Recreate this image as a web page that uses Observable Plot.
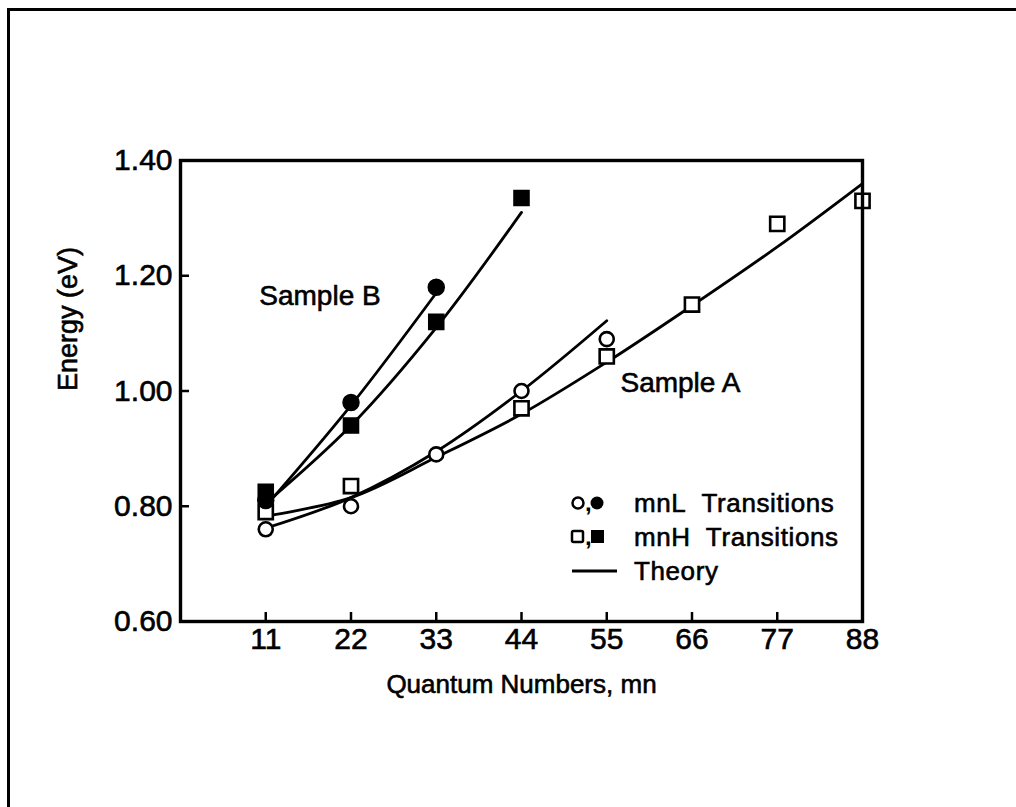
<!DOCTYPE html>
<html>
<head>
<meta charset="utf-8">
<script src="https://cdn.jsdelivr.net/npm/d3@7"></script>
<script src="https://cdn.jsdelivr.net/npm/@observablehq/plot@0.6"></script>
<style>
  html, body { margin: 0; padding: 0; background: #fff; }
  #page { position: relative; width: 1016px; height: 807px; overflow: hidden; font-family: "Liberation Sans", Arial, sans-serif; }
  #sheet { position: absolute; left: 7px; top: 8px; width: 1020px; height: 820px;
           border-top: 3px solid #000; border-left: 3px solid #000; box-sizing: border-box; }
  #chart { position: absolute; left: 0; top: 0; }
  #chart svg text { stroke: #000; stroke-width: 0.6px; }
  #legend { position: absolute; left: 570px; top: 486px; font-size: 26px; color: #000; letter-spacing: 0.6px;
            -webkit-text-stroke: 0.6px #000; }
  #legend .row { display: flex; align-items: center; height: 34px; }
  #legend svg { width: 64px; height: 30px; flex: none; }
</style>
</head>
<body>
<div id="page">
  <div id="sheet"></div>
  <div id="chart"></div>
  <div id="legend">
    <div class="row"><svg viewBox="0 0 64 30"><circle cx="8" cy="15" r="5.5" fill="#fff" stroke="#000" stroke-width="2.5"/><text x="15" y="23" font-size="24" font-weight="bold">,</text><circle cx="27" cy="15" r="6.5" fill="#000"/></svg><span>mnL&nbsp; Transitions</span></div>
    <div class="row"><svg viewBox="0 0 64 30"><rect x="2" y="9" width="11" height="11" rx="1.5" fill="#fff" stroke="#000" stroke-width="2.5"/><text x="15" y="23" font-size="24" font-weight="bold">,</text><rect x="21" y="8" width="13" height="13" fill="#000"/></svg><span>mnH&nbsp; Transitions</span></div>
    <div class="row"><svg viewBox="0 0 64 30"><line x1="2" y1="15" x2="47" y2="15" stroke="#000" stroke-width="2.8"/></svg><span>Theory</span></div>
  </div>
</div>
<script>
// Quantum-number tick positions and energy ticks
const quantumTicks = [11, 22, 33, 44, 55, 66, 77, 88];
const energyTicks = [0.6, 0.8, 1.0, 1.2, 1.4];
const energyTickLabels = ["0.60", "0.80", "1.00", "1.20", "1.40"];

// Sample A measurements (open symbols)
const sampleA_mnL = [[11, 0.76], [22, 0.80], [33, 0.89], [44, 1.00], [55, 1.09]];
const sampleA_mnH = [[11, 0.79], [22, 0.835], [44, 0.97], [55, 1.06], [66, 1.15], [77, 1.29], [88, 1.33]];

// Sample B measurements (filled symbols)
const sampleB_mnL = [[11, 0.81], [22, 0.98], [33, 1.18]];
const sampleB_mnH = [[11, 0.825], [22, 0.94], [33, 1.12], [44, 1.335]];

// Theory curves
const theoryA_mnL = [[11, 0.762], [22, 0.815], [33, 0.895], [44, 1.00], [55, 1.122]];
const theoryA_mnH = [[11, 0.783], [22, 0.815], [33, 0.885], [44, 0.96], [55, 1.05], [66, 1.148], [77, 1.25], [88, 1.36]];
const theoryB_mnL = [[11, 0.80], [22, 0.975], [33, 1.17]];
const theoryB_mnH = [[11, 0.805], [22, 0.94], [33, 1.11], [44, 1.31]];

// Sample name annotations (data coordinates)
const sampleNames = [
  {name: "Sample B", mn: 18, energy: 1.165},
  {name: "Sample A", mn: 64.5, energy: 1.013}
];

const FONT = '"Liberation Sans", Arial, sans-serif';
const W = 1016, H = 807;
const mL = 180, mR = 154, mT = 160, mB = 186;
const frameW = W - mL - mR, frameH = H - mT - mB;

const toRows = (arr) => arr.map(([mn, e]) => ({mn, e}));
const theory = [theoryA_mnL, theoryA_mnH, theoryB_mnL, theoryB_mnH];

const plot = Plot.plot({
  width: W, height: H,
  marginLeft: mL, marginRight: mR, marginTop: mT, marginBottom: mB,
  style: {fontFamily: FONT, background: "transparent", color: "#000"},
  x: {domain: [0, 88]},
  y: {domain: [0.6, 1.4]},
  marks: [
    // inward ticks
    Plot.tickX(quantumTicks, {x: d => d, insetTop: frameH - 9, strokeWidth: 2.5}),
    Plot.tickY(energyTicks, {y: d => d, insetRight: frameW - 9, strokeWidth: 2.5}),
    Plot.axisX(quantumTicks, {tickSize: 0, tickPadding: 6, fontSize: 30, label: null, tickFormat: d => String(d)}),
    Plot.axisY(energyTicks, {tickSize: 0, tickPadding: 8, fontSize: 30, label: null, tickFormat: (d, i) => energyTickLabels[i]}),
    Plot.text(["Energy (eV)"], {frameAnchor: "left", rotate: -90, dx: -112, fontSize: 27, text: d => d}),
    Plot.text(["Quantum Numbers, mn"], {frameAnchor: "bottom", dy: 71, fontSize: 26, text: d => d}),
    // theory lines
    ...theory.map(t => Plot.line(toRows(t), {x: "mn", y: "e", curve: "catmull-rom", stroke: "#000", strokeWidth: 2.8})),
    // measured points
    Plot.dot(toRows(sampleA_mnL), {x: "mn", y: "e", r: 7, symbol: "circle", fill: "#fff", stroke: "#000", strokeWidth: 2.6}),
    Plot.dot(toRows(sampleA_mnH), {x: "mn", y: "e", r: 8, symbol: "square", fill: "#fff", stroke: "#000", strokeWidth: 2.6}),
    Plot.dot(toRows(sampleB_mnL), {x: "mn", y: "e", r: 8, symbol: "circle", fill: "#000", stroke: "#000"}),
    Plot.dot(toRows(sampleB_mnH), {x: "mn", y: "e", r: 8.5, symbol: "square", fill: "#000", stroke: "#000"}),
    Plot.text(sampleNames, {x: "mn", y: "energy", text: "name", fontSize: 28}),
    Plot.frame({strokeWidth: 3.4})
  ]
});
document.getElementById("chart").appendChild(plot);
</script>
</body>
</html>
